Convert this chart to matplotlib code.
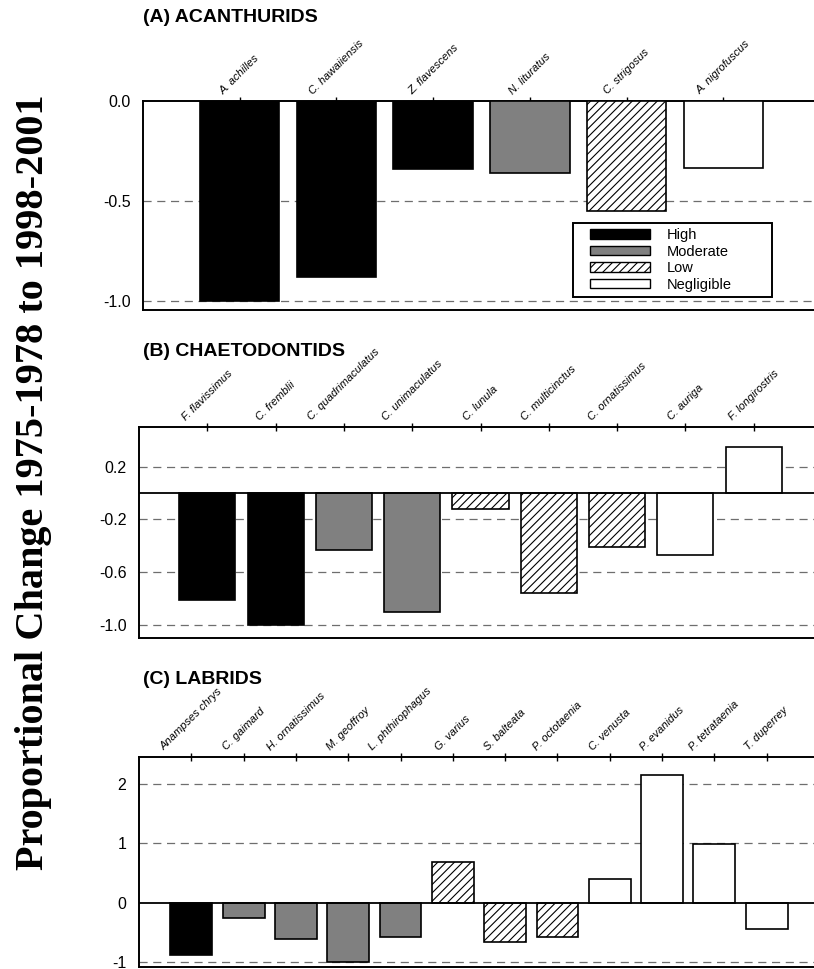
import matplotlib
matplotlib.use("Agg")
import matplotlib.pyplot as plt
from matplotlib.patches import Patch
from matplotlib.legend_handler import HandlerPatch

# ---------------- data ----------------
acan_species = ["A. achilles", "C. hawaiiensis", "Z. flavescens", "N. lituratus",
                "C. strigosus", "A. nigrofuscus"]
acan_values = [-1.0, -0.88, -0.34, -0.36, -0.55, -0.335]
acan_cat = ["High", "High", "High", "Moderate", "Low", "Negligible"]

chae_species = ["F. flavissimus", "C. fremblii", "C. quadrimaculatus", "C. unimaculatus",
                "C. lunula", "C. multicinctus", "C. ornatissimus", "C. auriga",
                "F. longirostris"]
chae_values = [-0.81, -1.0, -0.43, -0.90, -0.12, -0.76, -0.41, -0.47, 0.35]
chae_cat = ["High", "High", "Moderate", "Moderate", "Low", "Low", "Low",
            "Negligible", "Negligible"]

labr_species = ["Anampses chrys", "C. gaimard", "H. ornatissimus", "M. geoffroy",
                "L. phthirophagus", "G. varius", "S. balteata", "P. octotaenia",
                "C. venusta", "P. evanidus", "P. tetrataenia", "T. duperrey"]
labr_values = [-0.88, -0.25, -0.61, -1.0, -0.57, 0.69, -0.66, -0.57, 0.40, 2.14,
               0.99, -0.44]
labr_cat = ["High", "Moderate", "Moderate", "Moderate", "Moderate", "Low", "Low",
            "Low", "Negligible", "Negligible", "Negligible", "Negligible"]

acan_yticks = [0.0, -0.5, -1.0]
acan_yticklabels = ["0.0", "-0.5", "-1.0"]
chae_yticks = [0.2, -0.2, -0.6, -1.0]
chae_yticklabels = ["0.2", "-0.2", "-0.6", "-1.0"]
labr_yticks = [2, 1, 0, -1]
labr_yticklabels = ["2", "1", "0", "-1"]

legend_order = ["High", "Moderate", "Low", "Negligible"]
styles = {
    "High": dict(facecolor="black", hatch=None),
    "Moderate": dict(facecolor="#808080", hatch=None),
    "Low": dict(facecolor="white", hatch="////"),
    "Negligible": dict(facecolor="white", hatch=None),
}

plt.rcParams["font.family"] = ["Liberation Sans", "DejaVu Sans"]
plt.rcParams["hatch.linewidth"] = 0.8

W, H = 814, 969
fig = plt.figure(figsize=(W / 100, H / 100), dpi=100)


def px_axes(left, top, right, bottom):
    return fig.add_axes([left / W, 1 - bottom / H, (right - left) / W, (bottom - top) / H])


def draw_panel(ax, species, values, cats, ylim, yticks, yticklabels, width, gridvals, zero_line):
    x = list(range(1, len(species) + 1))
    for xi, v, c in zip(x, values, cats):
        st = styles[c]
        ax.bar(xi, v, width=width, facecolor=st["facecolor"], edgecolor="black",
               linewidth=1.2, hatch=st["hatch"], zorder=3)
    ax.set_xlim(0, len(species) + 1)
    ax.set_ylim(*ylim)
    for g in gridvals:
        ax.axhline(g, color="#6e6e6e", linewidth=0.9, linestyle=(0, (6.5, 4.5)), zorder=1)
    if zero_line:
        ax.axhline(0, color="black", linewidth=1.3, zorder=4)
    ax.xaxis.tick_top()
    ax.set_xticks(x)
    ax.set_xticklabels(species, rotation=45, fontsize=8, style="italic")
    ax.tick_params(axis="x", direction="inout", length=6, width=1, pad=0.5)
    ax.set_yticks(yticks)
    ax.set_yticklabels(yticklabels, fontsize=11.5)
    ax.tick_params(axis="y", length=0, pad=9)
    ax.spines["right"].set_visible(False)
    for s in ("left", "top", "bottom"):
        ax.spines[s].set_linewidth(1.4)
    ax.set_facecolor("none")


axA = px_axes(143, 101, 820, 310)
draw_panel(axA, acan_species, acan_values, acan_cat, (-1.045, 0.0), acan_yticks,
           acan_yticklabels, 0.82, [-0.5, -1.0], False)

axB = px_axes(139, 427, 822, 638)
draw_panel(axB, chae_species, chae_values, chae_cat, (-1.1, 0.5), chae_yticks,
           chae_yticklabels, 0.82, [0.2, -0.2, -0.6, -1.0], True)

axC = px_axes(139, 757, 819, 967)
draw_panel(axC, labr_species, labr_values, labr_cat, (-1.08, 2.45), labr_yticks,
           labr_yticklabels, 0.8, [2, 1, -1], True)

# legend
leg_fs = 10.5
fs_px = leg_fs * 100 / 72.0
handles = [Patch(facecolor=styles[k]["facecolor"], edgecolor="black", linewidth=1.0,
                 hatch=styles[k]["hatch"], label=k) for k in legend_order]
axw = 677.0
axh = 209.0
leg = axA.legend(handles=handles, loc="upper left",
                 bbox_to_anchor=(430 / axw, (310 - 223) / axh - 0.3, 199 / axw, 0.3),
                 mode="expand", borderaxespad=0, fontsize=leg_fs, frameon=True,
                 fancybox=False, edgecolor="black",
                 handlelength=72 / fs_px, handleheight=0.62,
                 labelspacing=0.17, handletextpad=16 / fs_px, borderpad=0.36,
                 framealpha=1,
                 handler_map={Patch: HandlerPatch(xpad=12 / fs_px)})
leg.get_frame().set_linewidth(1.4)
leg.set_zorder(10)

title_kw = dict(fontsize=14, fontweight="bold", ha="left", va="center")
fig.text(143 / W, 1 - 18 / H, "(A) ACANTHURIDS", **title_kw)
fig.text(143 / W, 1 - 352 / H, "(B) CHAETODONTIDS", **title_kw)
fig.text(143 / W, 1 - 680 / H, "(C) LABRIDS", **title_kw)

fig.text(34 / W, 1 - 482 / H, "Proportional Change 1975-1978 to 1998-2001",
         rotation=90, ha="center", va="center", fontsize=29, fontweight="bold",
         family=["Liberation Serif", "DejaVu Serif"])

fig.savefig("out.png", dpi=100)
